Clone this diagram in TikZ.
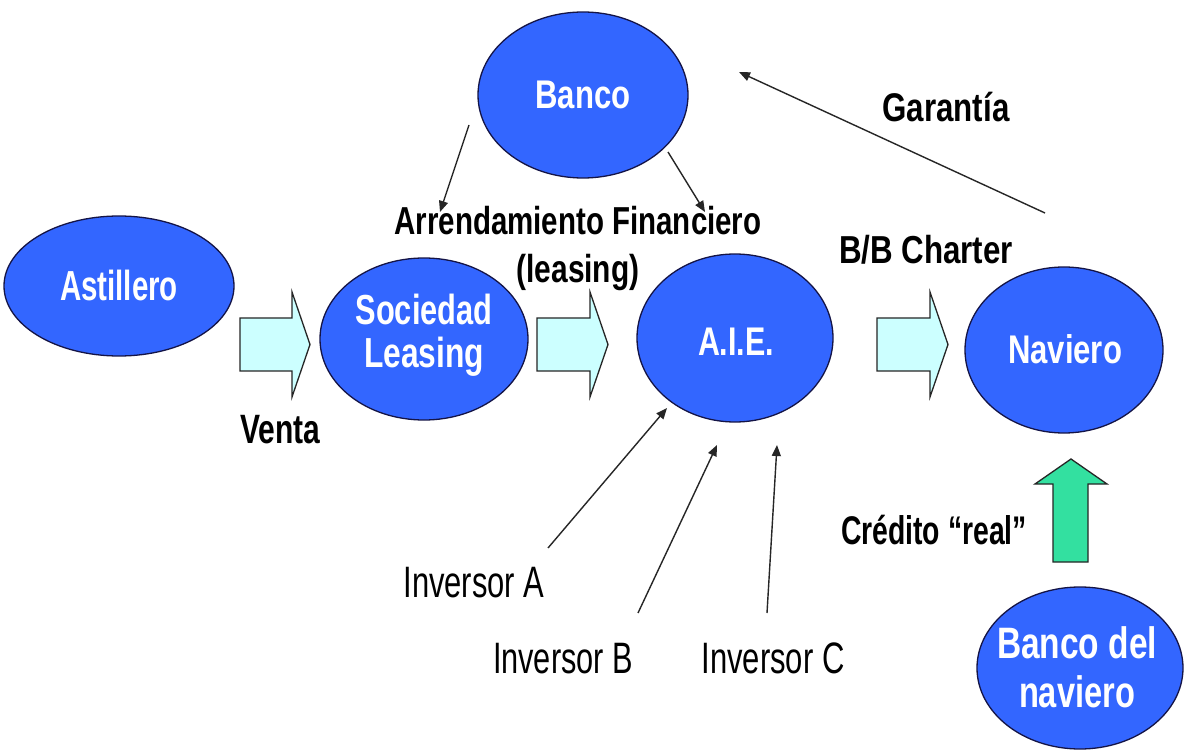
\documentclass[tikz,border=0pt]{standalone}
\usepackage{fontspec}
\setmainfont{Liberation Sans}
\usepackage{graphicx}
\usetikzlibrary{arrows.meta,shapes.geometric}
\definecolor{blobblue}{RGB}{51,102,255}
\definecolor{blobline}{RGB}{20,20,70}
\definecolor{cyanfill}{RGB}{204,255,255}
\definecolor{greenfill}{RGB}{51,224,160}
\newcommand\fw[2]{\resizebox{#1pt}{\height}{#2}}
\begin{document}
\begin{tikzpicture}[x=1pt,y=-1pt,
  blob/.style={ellipse, draw=blobline, line width=1.3pt, fill=blobblue, inner sep=0pt},
  wtxt/.style={text=white, inner sep=0pt, align=center},
  btxt/.style={text=black, inner sep=0pt, align=center},
  rtxt/.style={text=black, inner sep=0pt, font=\fontsize{44}{46}\selectfont},
  fine/.style={line width=1.4pt, draw=black!85, -{Triangle[length=11pt,width=9pt]}},
  barrow/.style={draw=black!85, line width=1.3pt, fill=cyanfill, line join=miter},
  garrow/.style={draw=black!85, line width=1.3pt, fill=greenfill, line join=miter},
]
\fill[white] (0,0) rectangle (1184,751);
\useasboundingbox (0,0) rectangle (1184,751);

% ellipses
\node[blob, minimum width=210pt, minimum height=166pt] (banco) at (583,95) {};
\node[blob, minimum width=230pt, minimum height=140pt] (astillero) at (119,286) {};
\node[blob, minimum width=208pt, minimum height=162pt] (sociedad) at (424,339) {};
\node[blob, minimum width=196pt, minimum height=168pt] (aie) at (735,338) {};
\node[blob, minimum width=198pt, minimum height=166pt] (naviero) at (1064,350) {};
\node[blob, minimum width=206pt, minimum height=162pt] (bdn) at (1080,668) {};

% texts inside ellipses
\node[wtxt, anchor=base, font=\bfseries\fontsize{40}{42}\selectfont] (banco-t) at (583,109) {\fw{95}{Banco}};
\node[wtxt, anchor=base, font=\bfseries\fontsize{42}{44}\selectfont] (astillero-t) at (119,301) {\fw{118}{Astillero}};
\node[wtxt, font=\bfseries\fontsize{42}{43}\selectfont] (sociedad-t) at (424,335) {\fw{137}{Sociedad}\\\fw{120}{Leasing}};
\node[wtxt, anchor=base, font=\bfseries\fontsize{40}{42}\selectfont] (aie-t) at (736,356) {\fw{76}{A.I.E.}};
\node[wtxt, anchor=base, font=\bfseries\fontsize{40}{42}\selectfont] (naviero-t) at (1065,364) {\fw{114}{Naviero}};
\node[wtxt, font=\bfseries\fontsize{44}{49}\selectfont] (bdn-t) at (1077,667) {\fw{160}{Banco del}\\\fw{116}{naviero}};

% block arrows
\draw[barrow] (240,318) -- ++(52,0) -- ++(0,-26) -- ++(18,52.5) -- ++(-18,52.5) -- ++(0,-26) -- ++(-52,0) -- cycle;
\draw[barrow] (537,318) -- ++(53,0) -- ++(0,-26) -- ++(18,52.5) -- ++(-18,52.5) -- ++(0,-26) -- ++(-53,0) -- cycle;
\draw[barrow] (877,318) -- ++(53,0) -- ++(0,-26) -- ++(18,52.5) -- ++(-18,52.5) -- ++(0,-26) -- ++(-53,0) -- cycle;
\draw[garrow] (1053,562) -- (1053,484) -- (1035,484) -- (1071,459) -- (1107,484) -- (1088,484) -- (1088,562) -- cycle;

% black labels
\node[btxt, font=\bfseries\fontsize{39}{48}\selectfont] (arrend) at (578,249) {\fw{367}{Arrendamiento Financiero}\\\fw{123}{(leasing)}};
\node[btxt, anchor=base, font=\bfseries\fontsize{41}{42}\selectfont] (venta) at (280,443) {\fw{80}{Venta}};
\node[btxt, anchor=base, font=\bfseries\fontsize{40}{42}\selectfont] (garantia) at (946,122) {\fw{127}{Garantía}};
\node[btxt, anchor=base, font=\bfseries\fontsize{39}{42}\selectfont] (charter) at (926,264) {\fw{174}{B/B Charter}};
\node[btxt, anchor=base, font=\bfseries\fontsize{40}{42}\selectfont] (credito) at (934,544) {\fw{186}{Crédito “real”}};

\node[rtxt, anchor=base] (invA) at (474,597) {\fw{141}{Inversor A}};
\node[rtxt, anchor=base] (invB) at (563,673) {\fw{140}{Inversor B}};
\node[rtxt, anchor=base] (invC) at (773,673) {\fw{143}{Inversor C}};

% free arrow ends
\coordinate (bL0) at (469,125);
\coordinate (bL1) at (440,212);
\coordinate (bR0) at (668,152);
\coordinate (bR1) at (705,212);
\coordinate (g0) at (1045,213);
\coordinate (g1) at (739,72);
\coordinate (iA0) at (548,548);
\coordinate (iA1) at (667,408);
\coordinate (iB0) at (638,613);
\coordinate (iB1) at (717,445);
\coordinate (iC0) at (767,613);
\coordinate (iC1) at (777,445);

\draw[fine] (bL0) -- (bL1);
\draw[fine] (bR0) -- (bR1);
\draw[fine] (g0) -- (g1);
\draw[fine] (iA0) -- (iA1);
\draw[fine] (iB0) -- (iB1);
\draw[fine] (iC0) -- (iC1);
\end{tikzpicture}
\end{document}
